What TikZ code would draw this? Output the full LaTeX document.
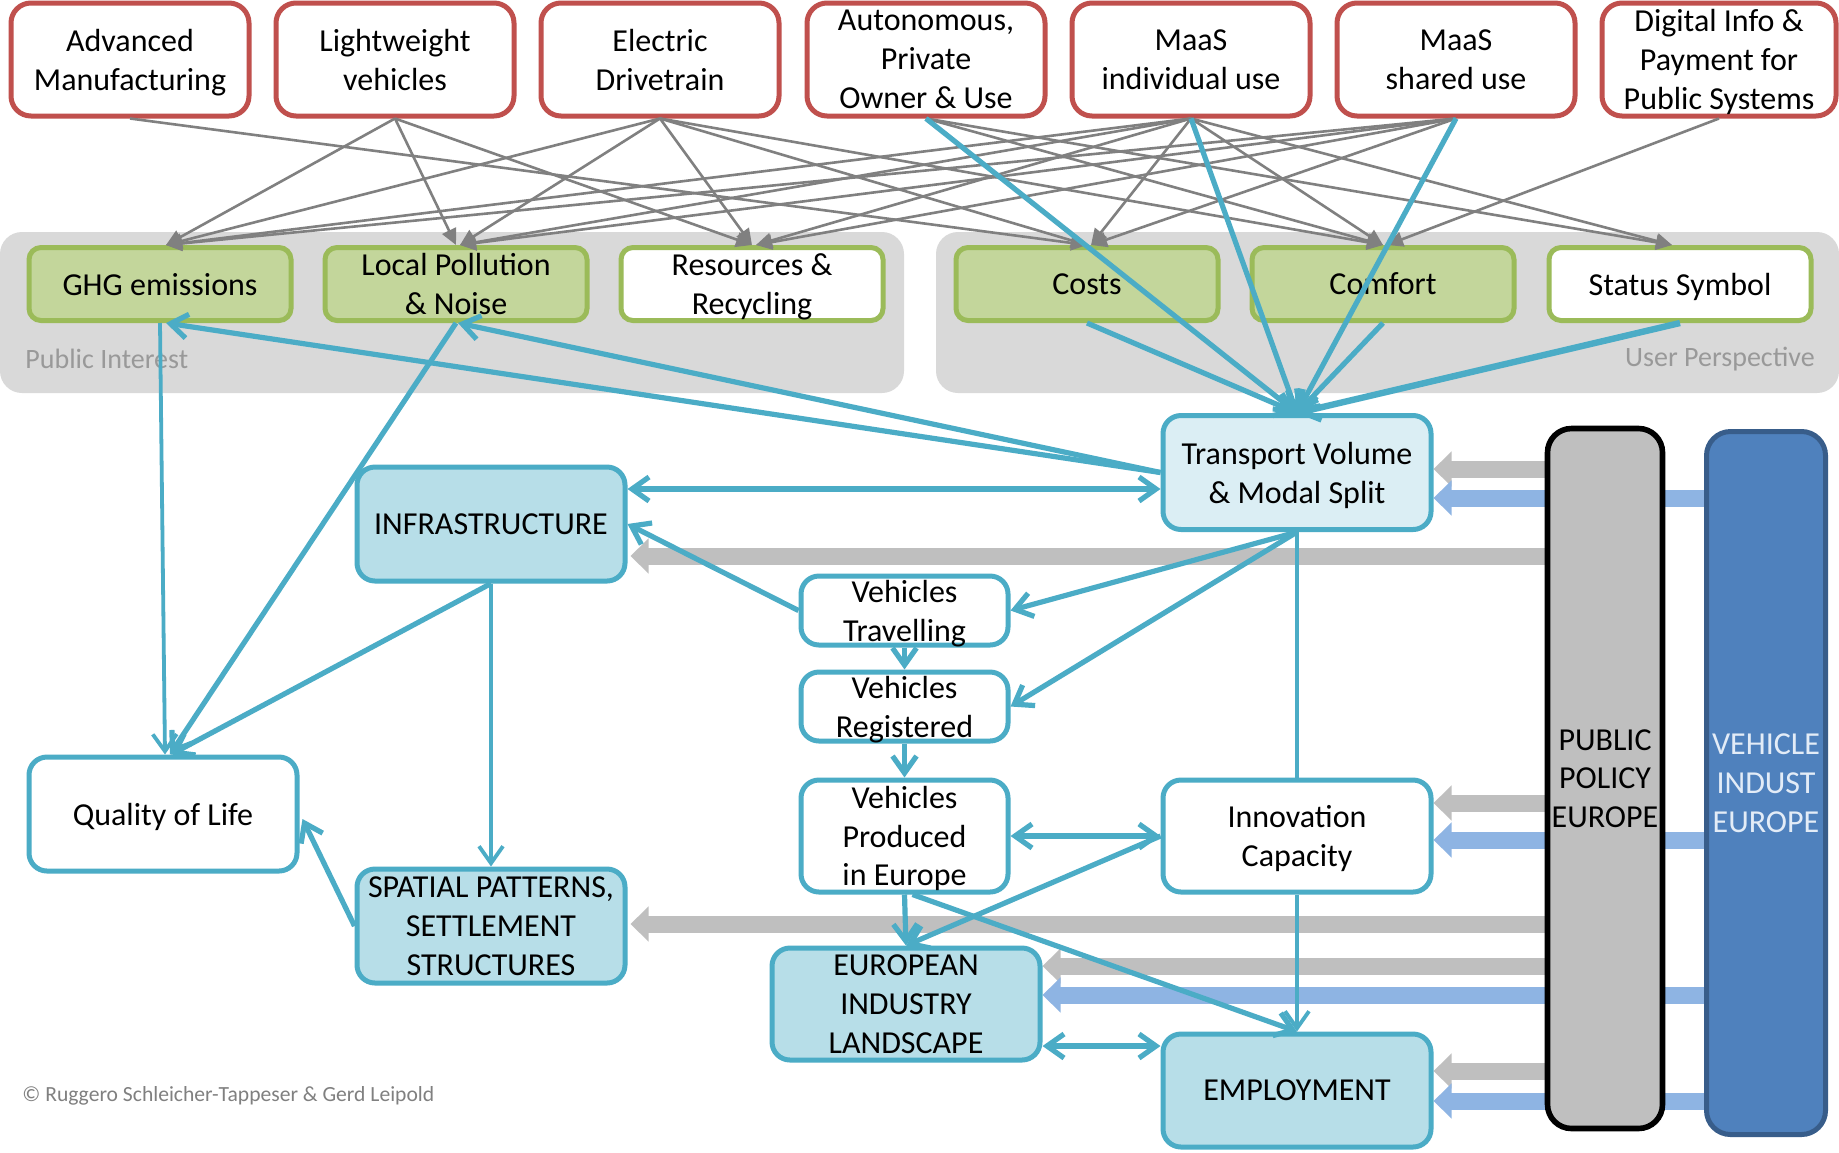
\documentclass[tikz,border=0pt]{standalone}
\usepackage{fontspec}
\setmainfont{Carlito}
\usetikzlibrary{arrows.meta,calc}
\definecolor{redc}{HTML}{C0504D}
\definecolor{greenb}{HTML}{9BBB59}
\definecolor{greenf}{HTML}{C3D69B}
\definecolor{bluec}{HTML}{4BACC6}
\definecolor{bluef}{HTML}{B7DEE8}
\definecolor{bluel}{HTML}{DBEEF4}
\definecolor{panel}{HTML}{D9D9D9}
\definecolor{thickg}{HTML}{BFBFBF}
\definecolor{thickb}{HTML}{8EB4E3}
\definecolor{conng}{HTML}{808080}
\definecolor{vibar}{HTML}{4F81BD}
\definecolor{vibord}{HTML}{385D8A}
\definecolor{vitext}{HTML}{E3ECF7}
\definecolor{labg}{HTML}{999999}
\definecolor{copyg}{HTML}{808080}
\pgfdeclarelayer{bg}
\pgfdeclarelayer{thick}
\pgfdeclarelayer{front}
\pgfsetlayers{bg,thick,main,front}
\begin{document}
\begin{tikzpicture}[x=0.5pt,y=-0.5pt,
  >={Straight Barb[length=8.5pt,width=12pt]},
  txt/.style={font=\fontsize{16}{19.4}\selectfont, align=center, inner sep=0pt, text depth=0pt},
  redbox/.style={txt, draw=redc, line width=2.5pt, fill=white, rounded corners=10pt, minimum width=119pt, minimum height=56.5pt},
  greenbox/.style={txt, draw=greenb, line width=2.5pt, fill=greenf, rounded corners=6pt, minimum width=131pt, minimum height=36.5pt},
  whitegreen/.style={greenbox, fill=white},
  bluebox/.style={txt, draw=bluec, line width=2.5pt, rounded corners=9pt, minimum width=134pt, minimum height=57pt},
  darkblue/.style={bluebox, fill=bluef},
  lightblue/.style={bluebox, fill=bluel},
  whiteblue/.style={bluebox, fill=white},
  vehbox/.style={whiteblue, minimum width=103.5pt, minimum height=34.5pt},
  ppbox/.style={txt, draw=black, line width=2.8pt, fill=thickg, rounded corners=12pt, minimum width=57.5pt, minimum height=350pt},
  vibox/.style={txt, draw=vibord, line width=2.5pt, fill=vibar, text=vitext, rounded corners=12pt, minimum width=59.5pt, minimum height=351.5pt},
  conn/.style={draw=conng, line width=1.3pt, -{Triangle[length=8pt,width=7.5pt]}},
  bconn/.style={draw=bluec, line width=2.6pt},
  bthin/.style={draw=bluec, line width=1.9pt},
  thickgray/.style={draw=thickg, line width=8.5pt, -{Triangle[length=9pt,width=17pt]}},
  thickblue/.style={draw=thickb, line width=8.5pt, -{Triangle[length=9pt,width=17pt]}},
  paneltext/.style={font=\fontsize{14}{16}\selectfont, text=labg, inner sep=0pt}
]
\useasboundingbox (0,0) rectangle (1839,1152);

% top row: technologies
\node[redbox] (am) at (130,59.5) {Advanced\\Manufacturing};
\node[redbox] (lw) at (395,59.5) {Lightweight\\vehicles};
\node[redbox] (ed) at (660,59.5) {Electric\\Drivetrain};
\node[redbox] (au) at (926,59.5) {Autonomous,\\Private\\Owner \& Use};
\node[redbox] (mi) at (1191,59.5) {MaaS\\individual use};
\node[redbox] (ms) at (1456,59.5) {MaaS\\shared use};
\node[redbox, minimum width=117pt] (di) at (1719,59.5) {Digital Info \&\\Payment for\\Public Systems};

% impacts
\node[greenbox] (ghg) at (160,284) {GHG emissions};
\node[greenbox] (lp) at (456,284) {Local Pollution\\\& Noise};
\node[whitegreen] (rr) at (752,284) {Resources \&\\Recycling};
\node[greenbox] (co) at (1087,284) {Costs};
\node[greenbox] (cf) at (1383,284) {Comfort};
\node[whitegreen] (st) at (1680,284) {Status Symbol};

\node[paneltext, anchor=west] (pil) at (25,359) {Public Interest};
\node[paneltext, anchor=east] (upl) at (1815,359) {User Perspective};

% system boxes
\node[lightblue] (tv) at (1297,472.5) {Transport Volume\\\& Modal Split};
\node[darkblue] (infra) at (491,524) {INFRASTRUCTURE};
\node[vehbox] (vt) at (904.5,610.5) {Vehicles\\Travelling};
\node[vehbox] (vr) at (904.5,706.5) {Vehicles\\Registered};
\node[vehbox, minimum height=56pt] (vp) at (904.5,836) {Vehicles\\Produced\\in Europe};
\node[darkblue, minimum height=56pt] (ei) at (906,1004) {EUROPEAN\\INDUSTRY\\LANDSCAPE};
\node[whiteblue, minimum height=56pt] (ic) at (1297,836) {Innovation\\Capacity};
\node[darkblue, minimum height=56.5pt] (em) at (1297,1090.5) {EMPLOYMENT};
\node[whiteblue] (ql) at (163,814) {Quality of Life};
\node[darkblue] (sp) at (491,926) {SPATIAL PATTERNS,\\SETTLEMENT\\STRUCTURES};

\node[ppbox] (pp) at (1605,778.5) {PUBLIC\\POLICY\\EUROPE};
\node[vibox] (vi) at (1766,783) {VEHICLE\\INDUST\\EUROPE};

\node[font=\fontsize{10.8}{12}\selectfont, text=copyg, anchor=west, inner sep=0pt] (copy) at (22,1096) {© Ruggero Schleicher-Tappeser \& Gerd Leipold};

% background panels
\begin{pgfonlayer}{bg}
\fill[white] (0,0) rectangle (1839,1152);
\fill[panel, rounded corners=11pt] (0,232) rectangle (904,393);
\fill[panel, rounded corners=11pt] (936,232) rectangle (1839,393);
\end{pgfonlayer}

% thick policy / industry arrows
\coordinate (g1) at (0,469);
\coordinate (g2) at (0,556);
\coordinate (g3) at (0,803);
\coordinate (g4) at (0,924);
\coordinate (g5) at (0,966);
\coordinate (g6) at (0,1071);
\coordinate (b1) at (0,498);
\coordinate (b2) at (0,840);
\coordinate (b3) at (0,995);
\coordinate (b4) at (0,1101);
\begin{pgfonlayer}{thick}
\draw[thickgray] (pp.west |- g1) -- (tv.east |- g1);
\draw[thickgray] (pp.west |- g2) -- ($(infra.east |- g2)+(3,0)$);
\draw[thickgray] (pp.west |- g3) -- (ic.east |- g3);
\draw[thickgray] (pp.west |- g4) -- ($(sp.east |- g4)+(3,0)$);
\draw[thickgray] (pp.west |- g5) -- (ei.east |- g5);
\draw[thickgray] (pp.west |- g6) -- (em.east |- g6);
\draw[thickblue] (vi.west |- b1) -- (tv.east |- b1);
\draw[thickblue] (vi.west |- b2) -- (ic.east |- b2);
\draw[thickblue] (vi.west |- b3) -- (ei.east |- b3);
\draw[thickblue] (vi.west |- b4) -- (em.east |- b4);
\end{pgfonlayer}

\begin{pgfonlayer}{front}
% technology -> impact links
\draw[conn] (am.south) -- (co.north);
\draw[conn] (lw.south) -- ($(ghg.north)+(6,0)$);
\draw[conn] (lw.south) -- (lp.north);
\draw[conn] (lw.south) -- (rr.north);
\draw[conn] (ed.south) -- ($(ghg.north)+(6,0)$);
\draw[conn] (ed.south) -- ($(lp.north)+(4,0)$);
\draw[conn] (ed.south) -- (rr.north);
\draw[conn] (ed.south) -- (co.north);
\draw[conn] (ed.south) -- (cf.north);
\draw[conn] (au.south) -- (cf.north);
\draw[conn] (au.south) -- ($(st.north)+(-8,0)$);
\draw[conn] (mi.south) -- ($(ghg.north)+(6,0)$);
\draw[conn] (mi.south) -- ($(lp.north)+(4,0)$);
\draw[conn] (mi.south) -- ($(rr.north)+(4,0)$);
\draw[conn] (mi.south) -- ($(co.north)+(4,0)$);
\draw[conn] (mi.south) -- (cf.north);
\draw[conn] (mi.south) -- ($(st.north)+(-8,0)$);
\draw[conn] (ms.south) -- ($(ghg.north)+(6,0)$);
\draw[conn] (ms.south) -- ($(lp.north)+(4,0)$);
\draw[conn] (ms.south) -- ($(rr.north)+(4,0)$);
\draw[conn] (ms.south) -- ($(co.north)+(4,0)$);
\draw[conn] (di.south) -- ($(cf.north)+(4,0)$);

% into transport volume
\draw[bconn, ->] (au.south) -- (tv.north);
\draw[bconn, ->] (mi.south) -- (tv.north);
\draw[bconn, ->] (ms.south) -- (tv.north);
\draw[bconn, ->] (co.south) -- (tv.north);
\draw[bconn, ->] (cf.south) -- (tv.north);
\draw[bconn, line width=3.2pt, ->] (st.south) -- (tv.north);

% transport volume outward
\draw[bconn, ->] (tv.west) -- ($(ghg.south)+(6,0)$);
\draw[bconn, ->] (tv.west) -- ($(lp.south)+(2,0)$);
\coordinate (h1) at (0,489);
\draw[bconn, <->] (infra.east |- h1) -- (tv.west |- h1);
\draw[bconn, ->] (tv.south) -- (vt.east);
\draw[bconn, ->] (tv.south) -- (vr.east);
\draw[bthin] (tv.south) -- (ic.north);

% vehicle chain
\draw[bconn, ->] (vt.west) -- (infra.east);
\draw[bconn, ->] (vt.south) -- (vr.north);
\draw[bconn, ->] (vr.south) -- (vp.north);
\draw[bconn, <->] (vp.east) -- (ic.west);
\draw[bconn, ->] (vp.south) -- (ei.north);
\draw[bconn, ->] ($(vp.south)+(8,0)$) -- (em.north);
\draw[bconn, ->] (ic.west) -- (ei.north);
\draw[bthin, ->] (ic.south) -- (em.north);
\coordinate (h2) at (0,1046);
\draw[bconn, <->] (ei.east |- h2) -- (em.west |- h2);

% left side
\draw[bthin, ->] (infra.south) -- (sp.north);
\draw[bconn, ->] (infra.south) -- ($(ql.north)+(8,0)$);
\draw[bthin, ->] (ghg.south) -- ($(ql.north)+(2,0)$);
\draw[bconn, ->] (lp.south) -- ($(ql.north)+(7,0)$);
\draw[bconn, ->] (sp.west) -- ($(ql.east)+(3,5)$);
\end{pgfonlayer}
\end{tikzpicture}
\end{document}
